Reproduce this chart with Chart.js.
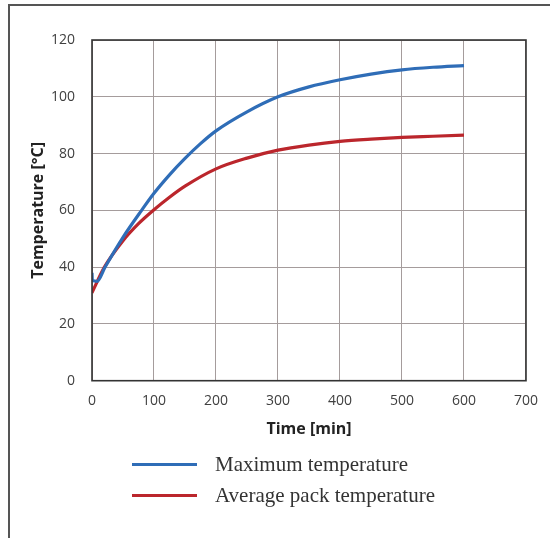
<!DOCTYPE html>
<html>
<head>
<meta charset="utf-8">
<script src="https://cdn.jsdelivr.net/npm/chart.js@4"></script>
<style>
  html, body { margin: 0; padding: 0; background: #ffffff; }
  body { width: 550px; height: 538px; position: relative; overflow: hidden; }
  #frame { position: absolute; left: 8px; top: 4px; width: 600px; height: 600px;
           border-left: 2px solid #555; border-top: 2px solid #555; }
  #wrap { position: absolute; left: 0; top: 0; width: 550px; height: 450px; }
  #legend { position: absolute; left: 0; top: 0; width: 550px; height: 538px; pointer-events: none; }
  .item { position: absolute; left: 132px; height: 30px; }
  .swatch { position: absolute; left: 0; width: 65px; height: 3px; }
  .txt { position: absolute; left: 83px; white-space: nowrap; font-family: "Liberation Serif", "DejaVu Serif", serif;
         font-size: 21px; color: #333; line-height: 24px; }
</style>
</head>
<body>
<div id="frame"></div>
<div id="wrap"><canvas id="c" width="550" height="450"></canvas></div>
<div id="legend"></div>
<script>
// ---- data ----
const seriesNames = ["Maximum temperature", "Average pack temperature"];
const timeMax = [0, 0.5, 8, 21, 50, 80, 100, 125, 150, 175, 200, 250, 300, 350, 400, 450, 500, 550, 600];
const maxTemp = [38, 35.3, 35, 40, 50.5, 60, 66, 72.5, 78.3, 83.5, 88, 94.7, 100, 103.5, 106, 108, 109.5, 110.4, 111];
const timeAvg = [0, 20, 50, 75, 100, 125, 150, 200, 250, 300, 350, 400, 450, 500, 550, 600];
const avgTemp = [31, 40, 49.3, 55.3, 60.2, 64.6, 68.5, 74.6, 78.4, 81.2, 83, 84.3, 85.1, 85.7, 86.1, 86.5];
const xTicks = [0, 100, 200, 300, 400, 500, 600, 700];
const yTicks = [0, 20, 40, 60, 80, 100, 120];
const seriesColors = ["#2f6db7", "#bb262c"];

const toPts = (xs, ys) => xs.map((x, i) => ({ x: x, y: ys[i] }));

const framePlugin = {
  id: 'frame',
  afterDraw(chart) {
    const a = chart.chartArea, ctx = chart.ctx;
    ctx.save();
    ctx.strokeStyle = '#333';
    ctx.lineWidth = 1.6;
    ctx.strokeRect(a.left, a.top, a.right - a.left, a.bottom - a.top);
    ctx.restore();
  }
};

const chart = new Chart(document.getElementById('c'), {
  type: 'line',
  data: {
    datasets: [
      { label: seriesNames[0], data: toPts(timeMax, maxTemp), borderColor: seriesColors[0], borderWidth: 3.2,
        pointRadius: 0, cubicInterpolationMode: 'monotone', fill: false },
      { label: seriesNames[1], data: toPts(timeAvg, avgTemp), borderColor: seriesColors[1], borderWidth: 3.2,
        pointRadius: 0, cubicInterpolationMode: 'monotone', fill: false }
    ]
  },
  options: {
    responsive: false,
    animation: false,
    layout: { padding: { top: 40, right: 23, left: 0, bottom: 0 } },
    plugins: { legend: { display: false }, tooltip: { enabled: false } },
    scales: {
      x: {
        type: 'linear', min: 0, max: 700,
        afterBuildTicks: (s) => { s.ticks = xTicks.map(v => ({ value: v })); },
        afterFit: (s) => { s.height = 69.3; },
        grid: { color: '#a59c9c', lineWidth: 1, drawTicks: false },
        border: { display: false },
        ticks: { padding: 12, color: '#404040', font: { family: 'Open Sans', size: 14 } },
        title: { display: true, text: 'Time [min]', color: '#222',
                 font: { family: 'Open Sans', size: 16, weight: 'bold' }, padding: { top: 0, bottom: 11 } }
      },
      y: {
        min: 0, max: 120,
        afterBuildTicks: (s) => { s.ticks = yTicks.map(v => ({ value: v })); },
        afterFit: (s) => { s.width = 92; },
        grid: { color: '#a59c9c', lineWidth: 1, drawTicks: false },
        border: { display: false },
        ticks: { padding: 17, color: '#404040', font: { family: 'Open Sans', size: 14 } },
        title: { display: true, text: 'Temperature [°C]', color: '#222',
                 font: { family: 'Open Sans', size: 16, weight: 'bold' }, padding: { top: 29, bottom: 0 } }
      }
    }
  },
  plugins: [framePlugin]
});

// legend built from the chart's datasets
const legend = document.getElementById('legend');
const rowY = [452, 483];
chart.data.datasets.forEach((ds, i) => {
  const item = document.createElement('div');
  item.className = 'item';
  item.style.top = rowY[i] + 'px';
  const sw = document.createElement('div');
  sw.className = 'swatch';
  sw.style.top = '11px';
  sw.style.background = ds.borderColor;
  const t = document.createElement('div');
  t.className = 'txt';
  t.style.top = '0px';
  t.textContent = ds.label;
  item.appendChild(sw); item.appendChild(t);
  legend.appendChild(item);
});
</script>
</body>
</html>
